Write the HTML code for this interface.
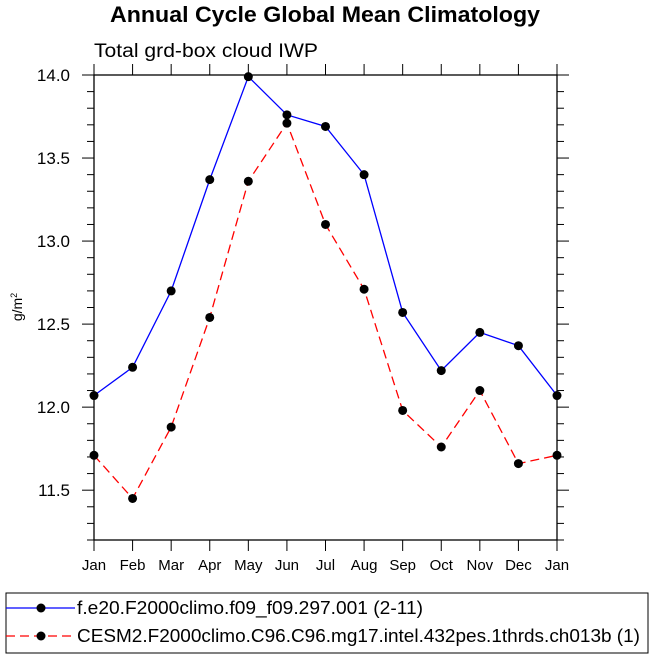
<!DOCTYPE html>
<html><head><meta charset="utf-8"><style>
body{margin:0;background:#fff;font-family:"Liberation Sans",sans-serif}
</style></head><body>
<svg width="650" height="660" xmlns="http://www.w3.org/2000/svg">
<text x="110" y="22" textLength="430" lengthAdjust="spacingAndGlyphs" font-size="22" font-weight="bold">Annual Cycle Global Mean Climatology</text>
<text x="94" y="57" textLength="224" lengthAdjust="spacingAndGlyphs" font-size="19">Total grd-box cloud IWP</text>
<text transform="translate(22,307) rotate(-90)" text-anchor="middle" font-size="14">g/m<tspan dy="-5" font-size="9">2</tspan></text>
<g id="axes"></g>
<g id="series"></g>
<rect x="6" y="593" width="642" height="60" fill="none" stroke="#000"/>
<g>
<line x1="6" y1="608" x2="75" y2="608" stroke="#0000ff" stroke-width="1.3"/>
<circle cx="41" cy="608" r="4.5"/>
<text x="77" y="614" textLength="346" lengthAdjust="spacingAndGlyphs" font-size="18">f.e20.F2000climo.f09_f09.297.001 (2-11)</text></g>
<g>
<line x1="6" y1="636" x2="75" y2="636" stroke="#ff0000" stroke-width="1.3" stroke-dasharray="9,5"/>
<circle cx="41" cy="636" r="4.5"/>
<text x="77" y="642" textLength="563" lengthAdjust="spacingAndGlyphs" font-size="18">CESM2.F2000climo.C96.C96.mg17.intel.432pes.1thrds.ch013b (1)</text></g>
</svg>
<script>
const months=["Jan","Feb","Mar","Apr","May","Jun","Jul","Aug","Sep","Oct","Nov","Dec","Jan"];
const blueVals=[12.07,12.24,12.70,13.37,13.99,13.76,13.69,13.40,12.57,12.22,12.45,12.37,12.07];
const redVals=[11.71,11.45,11.88,12.54,13.36,13.71,13.10,12.71,11.98,11.76,12.10,11.66,11.71];
const yTicks=["11.5","12.0","12.5","13.0","13.5","14.0"];
const L=94,R=557,T=75,B=540,YMIN=11.2,YMAX=14.0;
const xs=i=>L+(R-L)*i/(months.length-1);
const ys=v=>B-(B-T)*(v-YMIN)/(YMAX-YMIN);
const NS="http://www.w3.org/2000/svg";
function mk(tag,attrs,parent){const e=document.createElementNS(NS,tag);for(const k in attrs)e.setAttribute(k,attrs[k]);parent.appendChild(e);return e;}
const ax=document.getElementById('axes');
const frame=mk('rect',{x:L,y:T,width:R-L,height:B-T,fill:'none',stroke:'#000','stroke-width':1.3},ax);


for(let i=0;i<months.length;i++){
  const x=xs(i);
  mk('line',{x1:x,y1:B,x2:x,y2:B+11,stroke:'#000'},ax);
  mk('line',{x1:x,y1:T,x2:x,y2:T-11,stroke:'#000'},ax);
  const t=mk('text',{x:x,y:B+30,'text-anchor':'middle','font-size':15},ax);
  t.textContent=months[i];
  
  
}
for(let k=0;k<=28;k++){
  const v=YMIN+k*0.1;const y=ys(v);
  const major=Math.abs(v*2-Math.round(v*2))<1e-6;
  const len=major?12:7;
  mk('line',{x1:L-len,y1:y,x2:L,y2:y,stroke:'#000'},ax);
  mk('line',{x1:R,y1:y,x2:R+len,y2:y,stroke:'#000'},ax);
}
yTicks.forEach(s=>{
  const t=mk('text',{x:70,y:ys(parseFloat(s))+6,'text-anchor':'end','font-size':17},ax);
  t.textContent=s;
  
  
});
const sg=document.getElementById('series');
function draw(vals,color,dash,name){
  const g=mk('g',{},sg);
  
  
  const pts=vals.map((v,i)=>xs(i)+','+ys(v)).join(' ');
  const a={points:pts,fill:'none',stroke:color,'stroke-width':1.3};
  if(dash)a['stroke-dasharray']=dash;
  mk('polyline',a,g);
  vals.forEach((v,i)=>{
    const c=mk('circle',{cx:xs(i),cy:ys(v),r:4.5,fill:'#000'},g);
    
    
  });
}
draw(blueVals,'#0000ff',null,'series-f-e20');
draw(redVals,'#ff0000','9,5','series-cesm2');
</script>
</body></html>
